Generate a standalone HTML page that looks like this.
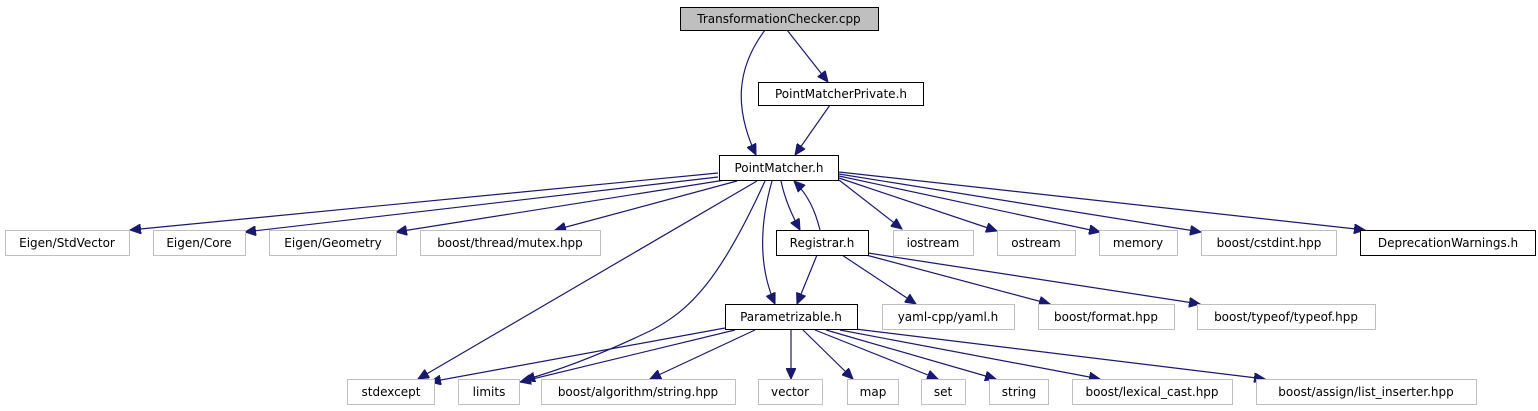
<!DOCTYPE html>
<html><head><meta charset="utf-8"><style>
html,body{margin:0;padding:0;background:#fff;width:1538px;height:411px;overflow:hidden}
</style></head><body>
<svg width="1538" height="411" viewBox="0 0 1538 411" xmlns="http://www.w3.org/2000/svg" font-family="DejaVu Sans, Liberation Sans, sans-serif" font-size="12">
<defs><marker id="a" markerUnits="userSpaceOnUse" markerWidth="12" markerHeight="10" refX="11" refY="5" orient="auto"><path d="M0,0 L11,5 L0,10 z" fill="#191970" stroke="#191970"/></marker></defs>
<g fill="none" stroke="#191970" stroke-width="1.2" marker-end="url(#a)">
<path d="M765,30 C735,70 735,110 756,155"/>
<path d="M787,30 L828,82"/>
<path d="M830,105 L795,155"/>
<path d="M718,173 L130,230"/>
<path d="M718,177 L245,232"/>
<path d="M725,180 L396,232"/>
<path d="M737,181 L555,230"/>
<path d="M757,181 L418,379"/>
<path d="M765,181 C720,280 690,310 652,330 C600,355 560,370 524,380"/>
<path d="M772,181 C758,230 760,270 775,304"/>
<path d="M781,181 C785,200 792,215 800,230"/>
<path d="M820,230 C815,210 808,195 794,181"/>
<path d="M839,180 L902,229"/>
<path d="M839,178 L997,231"/>
<path d="M839,176 L1100,232"/>
<path d="M839,174 L1201,232"/>
<path d="M839,172 L1365,230"/>
<path d="M817,255 L797,304"/>
<path d="M842,255 L916,304"/>
<path d="M866,255 L1050,304"/>
<path d="M868,253 L1200,304"/>
<path d="M725,328 L430,382"/>
<path d="M735,330 L520,382"/>
<path d="M755,330 L650,379"/>
<path d="M791,330 L791,379"/>
<path d="M803,330 L853,379"/>
<path d="M815,330 L938,379"/>
<path d="M826,330 L996,379"/>
<path d="M840,330 L1100,379"/>
<path d="M855,329 L1265,379"/>
</g>
<g stroke-width="1">
<rect x="680.5" y="7.5" width="198" height="23" fill="#bfbfbf" stroke="#000"/>
<rect x="758.5" y="82.5" width="165" height="23" fill="#fff" stroke="#000"/>
<rect x="719.5" y="155.5" width="119" height="25" fill="#fff" stroke="#000"/>
<rect x="776.5" y="230.5" width="92" height="25" fill="#fff" stroke="#000"/>
<rect x="1360.5" y="230.5" width="175" height="25" fill="#fff" stroke="#000"/>
<rect x="725.5" y="304.5" width="132" height="25" fill="#fff" stroke="#000"/>
<g fill="#fff" stroke="#bfbfbf">
<rect x="5.5" y="230.5" width="124" height="25"/>
<rect x="153.5" y="230.5" width="92" height="25"/>
<rect x="269.5" y="230.5" width="127" height="25"/>
<rect x="420.5" y="230.5" width="180" height="25"/>
<rect x="893.5" y="230.5" width="80" height="25"/>
<rect x="997.5" y="230.5" width="78" height="25"/>
<rect x="1099.5" y="230.5" width="78" height="25"/>
<rect x="1201.5" y="230.5" width="135" height="25"/>
<rect x="882.5" y="304.5" width="132" height="25"/>
<rect x="1038.5" y="304.5" width="136" height="25"/>
<rect x="1197.5" y="304.5" width="178" height="25"/>
<rect x="347.5" y="379.5" width="87" height="25"/>
<rect x="458.5" y="379.5" width="61" height="25"/>
<rect x="541.5" y="379.5" width="194" height="25"/>
<rect x="758.5" y="379.5" width="64" height="25"/>
<rect x="847.5" y="379.5" width="51" height="25"/>
<rect x="921.5" y="379.5" width="44" height="25"/>
<rect x="989.5" y="379.5" width="59" height="25"/>
<rect x="1072.5" y="379.5" width="160" height="25"/>
<rect x="1256.5" y="379.5" width="220" height="25"/>
</g></g>
<g fill="#000" text-anchor="middle">
<text x="779" y="23">TransformationChecker.cpp</text>
<text x="841" y="98">PointMatcherPrivate.h</text>
<text x="779" y="172">PointMatcher.h</text>
<text x="822" y="247">Registrar.h</text>
<text x="1448" y="247">DeprecationWarnings.h</text>
<text x="791" y="321">Parametrizable.h</text>
<text x="67" y="247">Eigen/StdVector</text>
<text x="199" y="247">Eigen/Core</text>
<text x="333" y="247">Eigen/Geometry</text>
<text x="510" y="247">boost/thread/mutex.hpp</text>
<text x="933" y="247">iostream</text>
<text x="1036" y="247">ostream</text>
<text x="1138" y="247">memory</text>
<text x="1269" y="247">boost/cstdint.hpp</text>
<text x="948" y="321">yaml-cpp/yaml.h</text>
<text x="1106" y="321">boost/format.hpp</text>
<text x="1286" y="321">boost/typeof/typeof.hpp</text>
<text x="391" y="396">stdexcept</text>
<text x="489" y="396">limits</text>
<text x="638" y="396">boost/algorithm/string.hpp</text>
<text x="790" y="396">vector</text>
<text x="873" y="396">map</text>
<text x="943" y="396">set</text>
<text x="1019" y="396">string</text>
<text x="1152" y="396">boost/lexical_cast.hpp</text>
<text x="1366" y="396">boost/assign/list_inserter.hpp</text>
</g>
</svg>
</body></html>
